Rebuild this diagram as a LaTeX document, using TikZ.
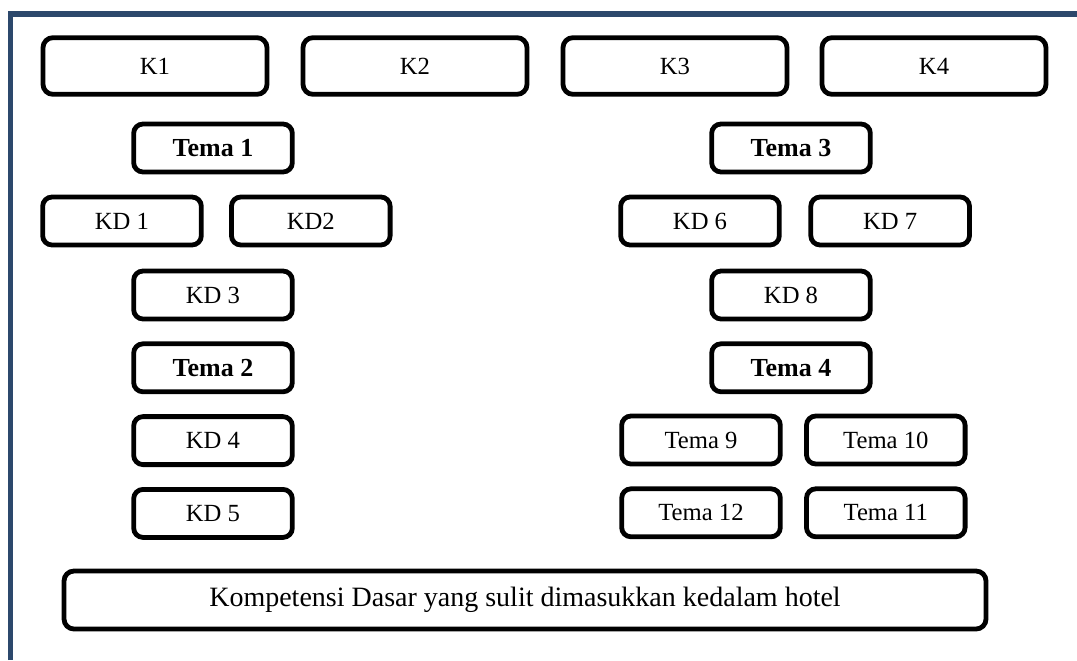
\documentclass[tikz,border=0pt]{standalone}
\usepackage{fontspec}
\setmainfont{Liberation Serif}
\usetikzlibrary{positioning}

\definecolor{bingkai}{RGB}{44,72,108}

\begin{document}
\begin{tikzpicture}[
    x=0.75pt, y=-0.75pt,
    node distance=15pt and 19pt,
    kotak/.style  = {rectangle, rounded corners=7.5pt, draw=black, line width=3.6pt, minimum width=168pt, minimum height=42.5pt, text centered, font=\fontsize{18.5}{21}\selectfont},
    kd/.style     = {rectangle, rounded corners=7pt, draw=black, line width=3.6pt, minimum width=119pt, minimum height=36pt, text centered, font=\fontsize{18.5}{21}\selectfont},
    tema/.style   = {kd, font=\fontsize{19.5}{22}\selectfont\bfseries},
    panjang/.style= {kotak, minimum width=691.5pt, minimum height=43.5pt, font=\fontsize{21}{24}\selectfont}
]
    \useasboundingbox (0,0) rectangle (1077,660);

    % --- Bingkai (atas & kiri) ---
    \draw [bingkai, line width=3.8pt] (10.5,660) -- (10.5,14) -- (1077,14);

    % --- Baris K ---
    \node (k1) [kotak] at (155,66) {K1};
    \node (k2) [kotak] at (415,66) {K2};
    \node (k3) [kotak] at (675,66) {K3};
    \node (k4) [kotak] at (934,66) {K4};

    % --- Kolom kiri: Tema 1 & Tema 2 ---
    \node (tema1) [tema] at (213,148) {Tema 1};
    \node (kd1)   [kd] at (122,221) {KD 1};
    \node (kd2)   [kd, right=of kd1] {KD2};
    \node (kd3)   [kd] at (213,295) {KD 3};
    \node (tema2) [tema, below=of kd3] {Tema 2};
    \node (kd4)   [kd, below=of tema2] {KD 4};
    \node (kd5)   [kd, below=of kd4] {KD 5};

    % --- Kolom kanan: Tema 3 & Tema 4 ---
    \node (tema3) [tema] at (791,148) {Tema 3};
    \node (kd6)   [kd] at (700,221) {KD 6};
    \node (kd7)   [kd, right=20pt of kd6] {KD 7};
    \node (kd8)   [kd] at (791,295) {KD 8};
    \node (tema4) [tema, below=of kd8] {Tema 4};
    \node (tema9)  [kd] at (701,440) {Tema 9};
    \node (tema10) [kd, right=16pt of tema9] {Tema 10};
    \node (tema12) [kd, below=of tema9] {Tema 12};
    \node (tema11) [kd, below=of tema10] {Tema 11};

    % --- Kotak bawah ---
    \node (sulit) [panjang] at (525,600) {Kompetensi Dasar yang sulit dimasukkan kedalam hotel};

\end{tikzpicture}
\end{document}
